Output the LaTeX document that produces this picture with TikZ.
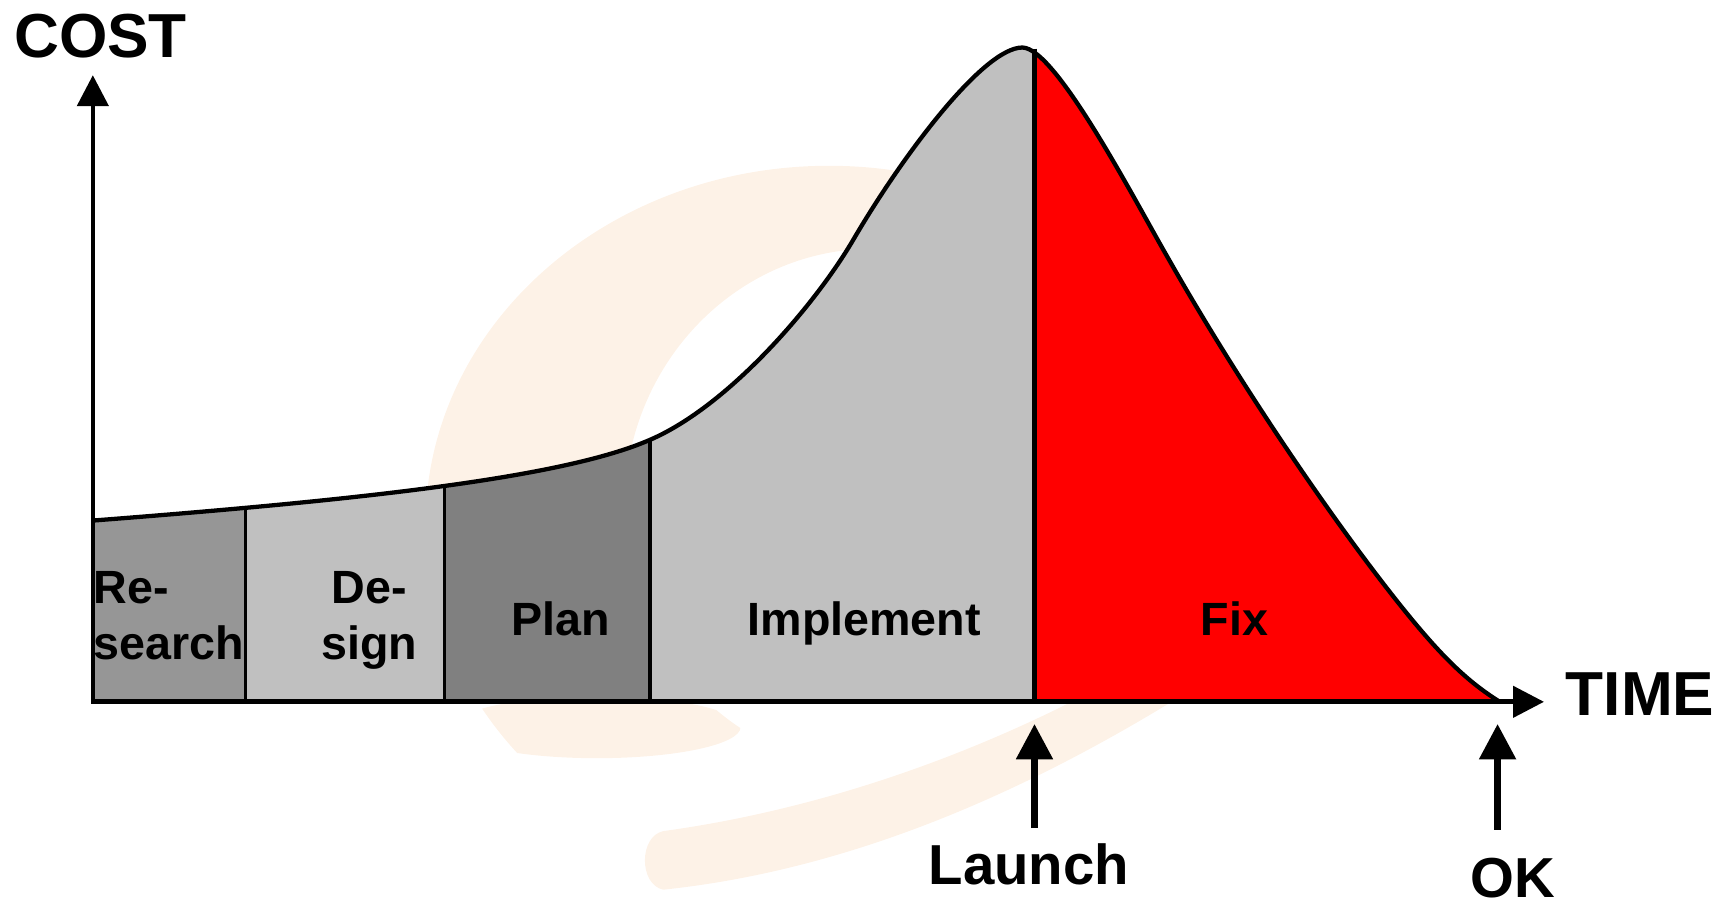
\documentclass[tikz,border=0pt]{standalone}
\usepackage{fontspec}
\setmainfont{Liberation Sans}
\usetikzlibrary{positioning, arrows.meta}

\definecolor{wmark}{RGB}{253,242,231}
\definecolor{research}{RGB}{150,150,150}
\definecolor{design}{RGB}{192,192,192}
\definecolor{plan}{RGB}{128,128,128}
\definecolor{implement}{RGB}{192,192,192}
\definecolor{fixred}{RGB}{255,0,0}

% cost over time, in pixel units of the sketch
\newcommand{\costcurve}{(84,471) .. controls (330,452) and (510,432) .. (588,398)
	.. controls (660,367) and (738,275) .. (772,217)
	.. controls (817,140) and (890,43) .. (925,43)
	.. controls (955,43) and (1026,180) .. (1056,232)
	.. controls (1120,345) and (1200,462) .. (1257,535)
	.. controls (1300,590) and (1325,615) .. (1357,635)}

\begin{document}
\begin{tikzpicture}[x=0.01cm, y=-0.01cm,
		axislabel/.style={font=\bfseries\fontsize{16}{19}\selectfont, inner sep=0pt},
		phaselabel/.style={font=\bfseries\fontsize{12}{14.5}\selectfont, inner sep=0pt},
		eventlabel/.style={font=\bfseries\fontsize{14.5}{17}\selectfont, inner sep=0pt},
		axis/.style={line width=1.2pt, {Triangle[length=0.28cm, width=0.28cm]}-{Triangle[length=0.28cm, width=0.28cm]}},
		eventarrow/.style={line width=1.8pt, -{Triangle[length=0.32cm, width=0.32cm]}}]
	\useasboundingbox (0,0) rectangle (1568,818);
	% watermark swirl
	\begin{scope}
		\clip (0,0) rectangle (1568,600) (540,658) ellipse [x radius=130, y radius=28];
		\fill[wmark, even odd rule] (750,475) ellipse [x radius=365, y radius=325] (790,460) ellipse [x radius=225, y radius=235];
	\end{scope}
	\fill[wmark] (600,752) .. controls (760,730) and (920,670) .. (1060,585) -- (1100,610)
		.. controls (960,700) and (790,785) .. (600,805) .. controls (578,800) and (578,757) .. (600,752) -- cycle;
	% phase strips under the curve
	\foreach \a/\b/\col in {84/222/research, 222/402/design, 402/588/plan, 588/936/implement, 936/1360/fixred} {
		\begin{scope}
			\clip (\a,0) rectangle (\b,700);
			\fill[\col] \costcurve -- (84,635) -- cycle;
		\end{scope}
	}
	\foreach \x/\y in {222/459, 402/440, 588/398}
		\draw[line width=0.9pt] (\x,\y) -- (\x,635);
	\draw[line width=1.1pt] (936,44) -- (936,635);
	\draw[line width=1.1pt] \costcurve;

	\coordinate (origin) at (84,635);
	\coordinate (ytip) at (84,68);
	\coordinate (xtip) at (1397,635);
	\coordinate (launchpt) at (936,655);
	\coordinate (okpt) at (1355,655);
	\draw[axis] (ytip) -- (origin) -- (xtip);

	\node[axislabel, anchor=base] (cost) at (91,52) {COST};
	\node[axislabel, anchor=base west] (time) at (1416,647) {TIME};

	\node[phaselabel, anchor=base west, align=left] (research) at (84,597) {Re-\\search};
	\node[phaselabel, anchor=base, align=center] (design) at (334,597) {De-\\sign};
	\node[phaselabel, anchor=base] (plan) at (507,575) {Plan};
	\node[phaselabel, anchor=base] (implement) at (782,575) {Implement};
	\node[phaselabel, anchor=base] (fix) at (1117,575) {Fix};

	\node[eventlabel, anchor=base] (launch) at (931,800) {Launch};
	\node[eventlabel, anchor=base] (ok) at (1369,812) {OK};
	\draw[eventarrow] ([yshift=0.13cm]launch.north -| launchpt) -- (launchpt);
	\draw[eventarrow] ([yshift=0.25cm]ok.north -| okpt) -- (okpt);
\end{tikzpicture}
\end{document}
